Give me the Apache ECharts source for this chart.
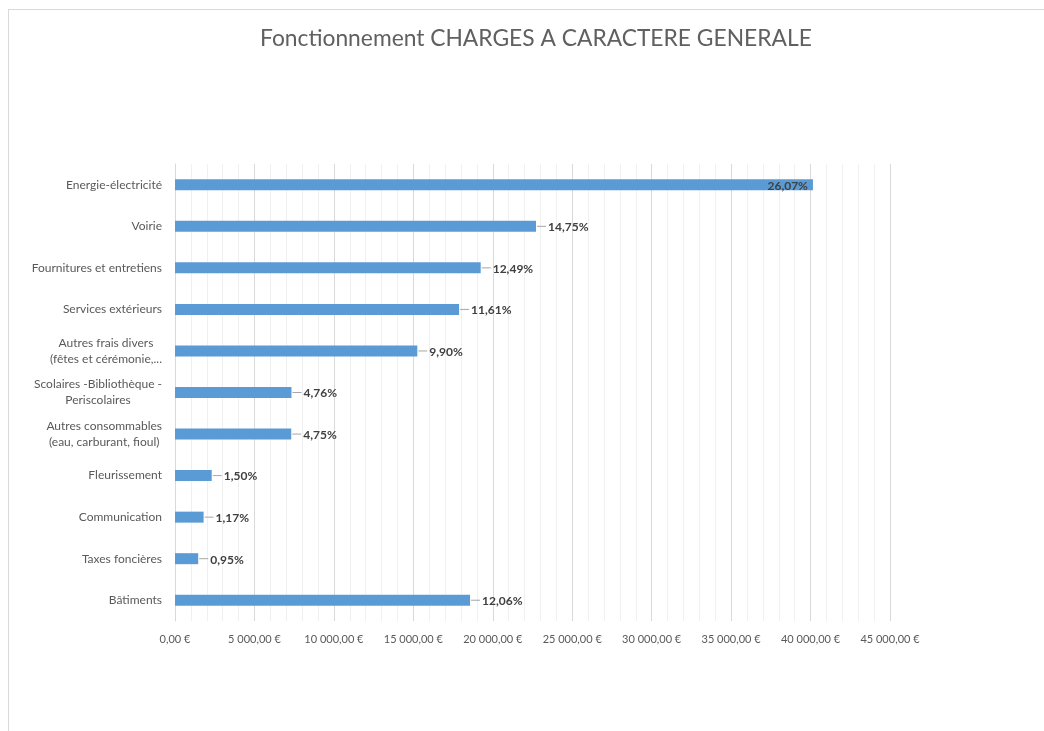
<!DOCTYPE html>
<html>
<head>
<meta charset="utf-8">
<script src="https://cdn.jsdelivr.net/npm/echarts@6/dist/echarts.min.js"></script>
<style>
    html, body { margin: 0; padding: 0; background: #fff; overflow: hidden; }
    #frame { position: absolute; left: 8px; top: 9px; width: 1100px; height: 800px; border: 1px solid #d9d9d9; }
    #chart { position: absolute; left: 0; top: 0; width: 1044px; height: 731px; }
</style>
</head>
<body>
<div id="frame"></div>
<div id="chart"></div>
<script>
    // catégories, du haut vers le bas
    var categories = [
        'Energie-électricité',
        'Voirie',
        'Fournitures et entretiens',
        'Services extérieurs',
        'Autres frais divers\n(fêtes et cérémonie,...',
        'Scolaires -Bibliothèque -\nPeriscolaires',
        'Autres consommables\n(eau, carburant, fioul)',
        'Fleurissement',
        'Communication',
        'Taxes foncières',
        'Bâtiments'
    ];
    // montants en euros
    var montants = [40150, 22720, 19240, 17880, 15250, 7330, 7315, 2310, 1800, 1460, 18570];
    // étiquettes affichées
    var pourcentages = ['26,07%', '14,75%', '12,49%', '11,61%', '9,90%', '4,76%', '4,75%', '1,50%', '1,17%', '0,95%', '12,06%'];

    function euros(v) {
        var parts = v.toFixed(2).split('.');
        return parts[0].replace(/\B(?=(\d{3})+(?!\d))/g, ' ') + ',' + parts[1] + ' €';
    }

    var data = montants.map(function(v, i) {
        var item = {value: v};
        if (i === 0) {
            // la plus grande barre : étiquette à l'intérieur
            item.label = {
                position: 'insideRight',
                offset: [-4, 1],
                formatter: pourcentages[i],
                color: '#404040',
                fontWeight: 'bold',
                fontSize: 12
            };
        }
        return item;
    });

    var chart = echarts.init(document.getElementById('chart'));
    chart.setOption({
        backgroundColor: 'transparent',
        textStyle: {fontFamily: 'Lato'},
        title: {
            text: 'Fonctionnement CHARGES A CARACTERE GENERALE',
            left: 255,
            top: 22,
            textStyle: {fontFamily: 'Lato', fontSize: 22.8, fontWeight: 'normal', color: '#606060'}
        },
        grid: {left: 175, right: 154, top: 164, bottom: 110},
        xAxis: {
            type: 'value',
            min: 0,
            max: 45000,
            interval: 5000,
            axisLine: {show: false},
            axisTick: {show: false},
            axisLabel: {
                formatter: euros,
                color: '#595959',
                fontSize: 11,
                margin: 13
            },
            splitLine: {lineStyle: {color: '#d9d9d9'}},
            minorTick: {show: false, splitNumber: 5},
            minorSplitLine: {show: true, lineStyle: {color: '#f0f0f0'}}
        },
        yAxis: {
            type: 'category',
            inverse: true,
            data: categories,
            axisLine: {lineStyle: {color: '#d9d9d9'}},
            axisTick: {length: 5, lineStyle: {color: '#d9d9d9'}},
            axisLabel: {
                color: '#595959',
                fontSize: 12,
                margin: 13,
                lineHeight: 16,
                formatter: function(v) {
                    return v.split('\n').map(function(l) { return '{c|' + l + '}'; }).join('\n');
                },
                rich: {c: {align: 'center', color: '#595959', fontSize: 12, lineHeight: 16}}
            }
        },
        series: [{
            type: 'bar',
            data: data,
            barWidth: 11,
            itemStyle: {color: '#5b9bd5'},
            label: {
                show: true,
                position: 'right',
                distance: 1,
                formatter: function(p) {
                    return '{ln|}{v|' + pourcentages[p.dataIndex] + '}';
                },
                rich: {
                    ln: {width: 9, height: 1, backgroundColor: '#a6a6a6'},
                    v: {color: '#404040', fontWeight: 'bold', fontSize: 12, padding: [2, 0, 0, 2]}
                }
            }
        }]
    });
</script>
</body>
</html>
